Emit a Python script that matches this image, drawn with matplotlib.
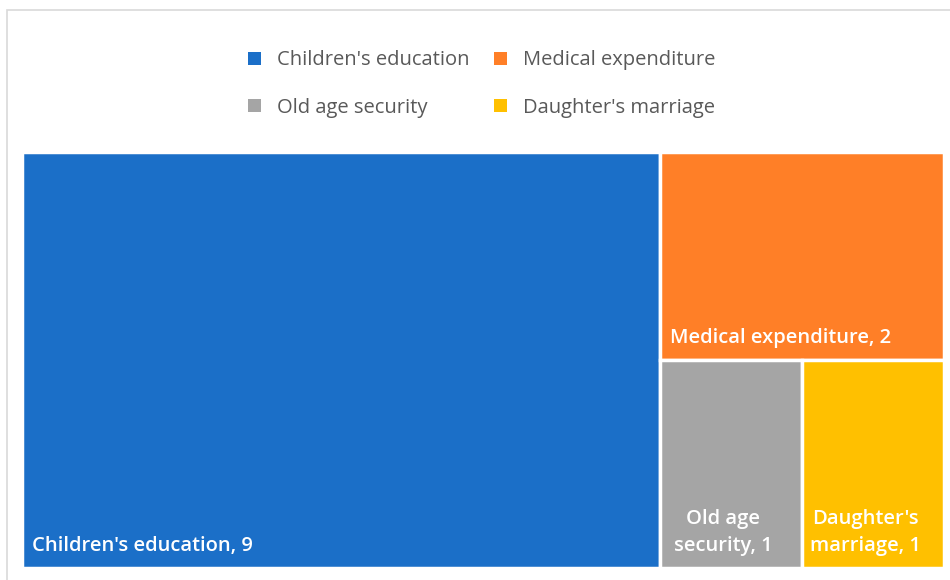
"""Treemap of reasons for borrowing"""
import matplotlib
matplotlib.use("Agg")
import matplotlib.pyplot as plt
from matplotlib.patches import Patch, Rectangle

categories = ["Children's education", "Medical expenditure", "Old age security", "Daughter's marriage"]
values = [9, 2, 1, 1]
colors = ["#1B6FC8", "#FF7F27", "#A5A5A5", "#FFC000"]
tree_labels = ["Children's education, 9", "Medical expenditure, 2", "Old age\nsecurity, 1", "Daughter's\nmarriage, 1"]

plt.rcParams["font.family"] = ["Open Sans", "DejaVu Sans"]


def worst(row, side):
    """Worst aspect ratio of a row laid along a side"""
    s = sum(row)
    return max(max(side * side * r / (s * s), s * s / (side * side * r)) for r in row)


def squarify(areas, x, y, w, h):
    """Plain squarified treemap layout, returns (x, y, w, h) per area"""
    rects = []
    areas = list(areas)
    while areas:
        side = min(w, h)
        row = [areas.pop(0)]
        while areas and worst(row + [areas[0]], side) <= worst(row, side):
            row.append(areas.pop(0))
        s = sum(row)
        if w >= h:
            # column on the left, top to bottom
            cw = s / h
            cy = y + h
            for r in row:
                rh = r / cw
                cy -= rh
                rects.append((x, cy, cw, rh))
            x += cw
            w -= cw
        else:
            # row on top, left to right
            rh = s / w
            cx = x
            for r in row:
                rw = r / rh
                rects.append((cx, y + h - rh, rw, rh))
                cx += rw
            h -= rh
    return rects


W, H = 922.0, 416.0
total = sum(values)
rects = squarify([v / total * W * H for v in values], 0, 0, W, H)

fig = plt.figure(figsize=(9.5, 5.8), dpi=100)
fig.patches.append(Rectangle((7 / 950, -0.1), 1.0, (580 - 10) / 580 + 0.1,
                             transform=fig.transFigure, fill=False,
                             edgecolor="#D9D9D9", linewidth=1.2))

ax = fig.add_axes([22 / 950, 12 / 580, W / 950, H / 580])
ax.set_xlim(0, W)
ax.set_ylim(0, H)
ax.axis("off")

for (rx, ry, rw, rh), col, lab in zip(rects, colors, tree_labels):
    ax.add_patch(Rectangle((rx, ry), rw, rh, facecolor=col, edgecolor="white", linewidth=2.5))
    multi = "\n" in lab
    ax.text(rx + (rw / 2 - 8 if multi else 10), ry + 12, lab, color="white",
            fontsize=14.5, fontweight="semibold", ha="center" if multi else "left",
            va="bottom", multialignment="center", linespacing=1.45)

# legend is filled column by column, so reorder to get row-major order
order = [0, 2, 1, 3]
handles = [Patch(facecolor=colors[i], edgecolor="none") for i in order]
fig.legend(handles, [categories[i] for i in order], loc="center",
           bbox_to_anchor=(0.507, 1 - 84 / 580),
           ncol=2, frameon=False, fontsize=14.5, labelcolor="#595959",
           handlelength=0.65, handleheight=0.65, handletextpad=0.8,
           columnspacing=1.2, labelspacing=1.35)

fig.savefig("out.png", dpi=100)
